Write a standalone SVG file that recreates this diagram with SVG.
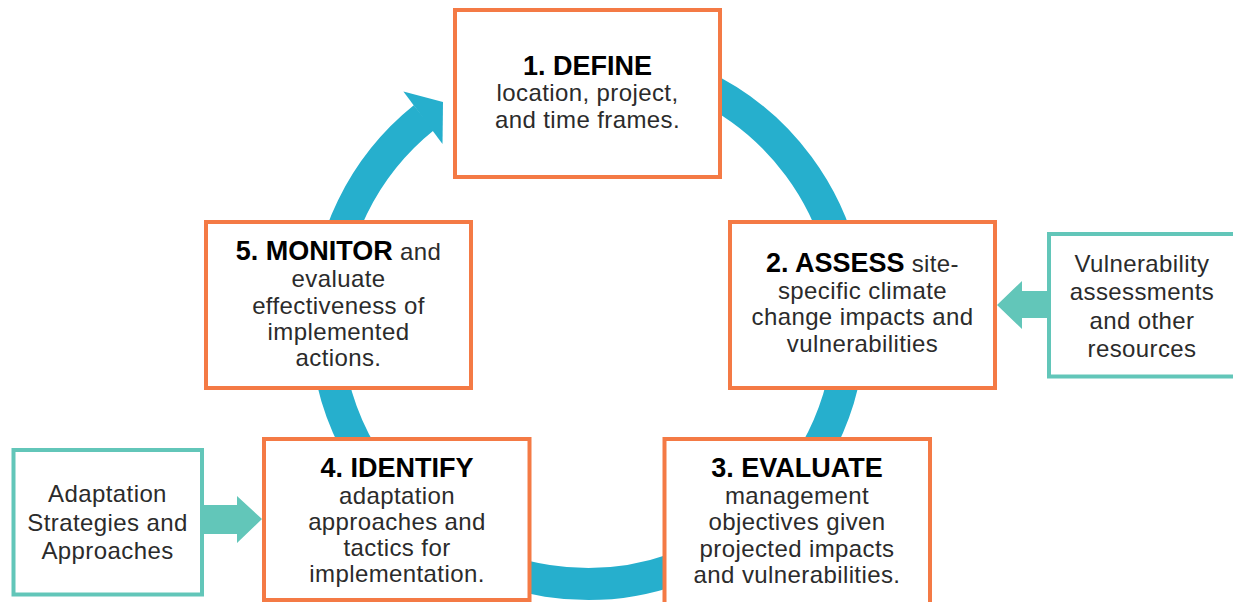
<svg xmlns="http://www.w3.org/2000/svg" width="1233" height="602" viewBox="0 0 1233 602">
<style>
.step{fill:#fff;stroke:#F47A45;stroke-width:4}
.src{fill:#fff;stroke:#62C6B9;stroke-width:4}
.ring{fill:none;stroke:#26AFCD;stroke-width:32}
.ringhead{fill:#26AFCD}
.tarrow{fill:#62C6B9}
text{font-family:"Liberation Sans",Arial,sans-serif;fill:#2b2b2b;text-anchor:middle}
.t{font-size:24px;letter-spacing:0.4px}
.b{font-weight:bold;font-size:27px;letter-spacing:0;fill:#000}
</style>
<rect width="1233" height="602" fill="#fff"/>
<g id="connectors">
<path class="ring" d="M588 60 A262 262 0 1 1 423.8 117.8"/>
<polygon class="ringhead" points="403.4,91.5 443,102 442.5,144"/>
<polygon class="tarrow" points="1049,291 1022,291 1022,281 997,305 1022,329 1022,318 1049,318"/>
<polygon class="tarrow" points="204,505 237,505 237,496 262,519 237,543 237,534 204,534"/>
</g>
<g id="define">
<rect class="step" x="455" y="10" width="265" height="167"/>
<text class="t" x="587.5"><tspan class="b" x="587.5" y="75">1. DEFINE</tspan><tspan x="587.5" y="101">location, project,</tspan><tspan x="587.5" y="128">and time frames.</tspan></text>
</g>
<g id="assess">
<rect class="step" x="730" y="222" width="265" height="166"/>
<text class="t" x="862.5"><tspan x="862.5" y="272"><tspan class="b">2. ASSESS</tspan> site-</tspan><tspan x="862.5" y="298.5">specific climate</tspan><tspan x="862.5" y="325">change impacts and</tspan><tspan x="862.5" y="351.5">vulnerabilities</tspan></text>
</g>
<g id="evaluate">
<rect class="step" x="664.5" y="439" width="265.5" height="200"/>
<text class="t" x="797"><tspan class="b" x="797" y="477">3. EVALUATE</tspan><tspan x="797" y="503.5">management</tspan><tspan x="797" y="530">objectives given</tspan><tspan x="797" y="556.5">projected impacts</tspan><tspan x="797" y="583">and vulnerabilities.</tspan></text>
</g>
<g id="identify">
<rect class="step" x="264" y="439" width="265.5" height="161"/>
<text class="t" x="397"><tspan class="b" x="397" y="477">4. IDENTIFY</tspan><tspan x="397" y="503.5">adaptation</tspan><tspan x="397" y="530">approaches and</tspan><tspan x="397" y="556">tactics for</tspan><tspan x="397" y="582">implementation.</tspan></text>
</g>
<g id="monitor">
<rect class="step" x="206" y="222" width="265" height="166"/>
<text class="t" x="338.5"><tspan x="338.5" y="259.5"><tspan class="b">5. MONITOR</tspan> and</tspan><tspan x="338.5" y="287">evaluate</tspan><tspan x="338.5" y="313.5">effectiveness of</tspan><tspan x="338.5" y="339.5">implemented</tspan><tspan x="338.5" y="366">actions.</tspan></text>
</g>
<g id="vulnerability">
<rect class="src" x="1049" y="234" width="200" height="142.5"/>
<text class="t" x="1142"><tspan x="1142" y="271.5">Vulnerability</tspan><tspan x="1142" y="300">assessments</tspan><tspan x="1142" y="328.5">and other</tspan><tspan x="1142" y="357">resources</tspan></text>
</g>
<g id="strategies">
<rect class="src" x="13.5" y="450" width="188.5" height="144.5"/>
<text class="t" x="107.5"><tspan x="107.5" y="501.5">Adaptation</tspan><tspan x="107.5" y="530.5">Strategies and</tspan><tspan x="107.5" y="559">Approaches</tspan></text>
</g>
</svg>
